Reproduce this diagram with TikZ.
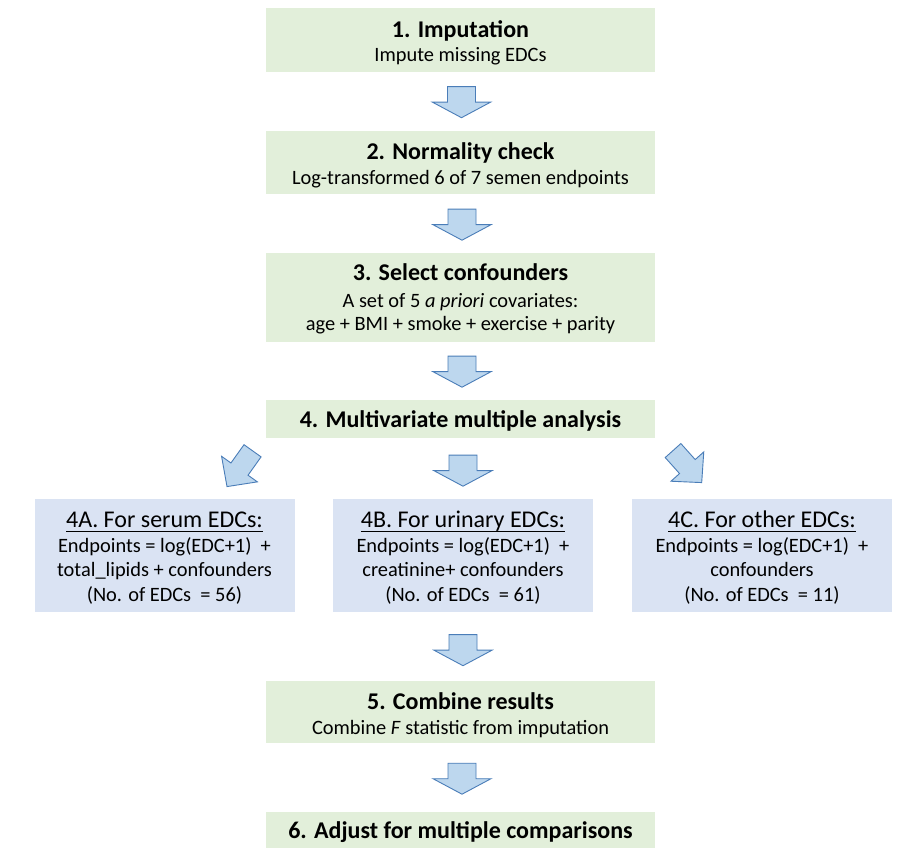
\documentclass[tikz,border=0pt]{standalone}
\usepackage{fontspec}
\setmainfont{Carlito}
\usetikzlibrary{calc}
\definecolor{gfill}{HTML}{E2EFDA}
\definecolor{bfill}{HTML}{DAE3F3}
\definecolor{afill}{HTML}{BDD7EE}
\definecolor{aline}{HTML}{4A7DB8}
\newcommand\ttlf{\fontsize{24}{26}\selectfont\bfseries}
\newcommand\bodyf{\fontsize{20.4}{23}\selectfont}
\newcommand\hdrf{\fontsize{24}{26}\selectfont}
\newcommand\ulin[1]{\setbox0\hbox{#1}\rlap{\rule[-4.3pt]{\wd0}{1.2pt}}\box0}
\newcommand\stack[1]{\vtop{\baselineskip=0pt\lineskiplimit=-1000pt\lineskip=0pt\halign{\hfil##\hfil\cr#1\crcr}}}
\newcommand\rowgap[1]{\cr\noalign{\kern#1}}
\tikzset{
  x=1pt, y=-1pt,
  boxg/.style={fill=gfill, draw=none, minimum width=389pt, inner sep=0pt},
  boxb/.style={fill=bfill, draw=none, minimum width=260pt, minimum height=113pt, inner sep=0pt},
  txt/.style={anchor=base, inner sep=0pt, font=\bodyf},
  arrowshape/.style={fill=afill, draw=aline, line width=0.9pt, line join=miter},
  pics/blockarrow/.style n args={4}{code={
    \draw[arrowshape] (0,0) -- (-#3,-#2) -- (-#4,-#2) -- (-#4,-#1) -- (#4,-#1) -- (#4,-#2) -- (#3,-#2) -- cycle;}}
}
\begin{document}
\begin{tikzpicture}
\fill[white] (0,0) rectangle (906,858);
\useasboundingbox (0,0) rectangle (906,858);
% boxes
\node[boxg, minimum height=64pt] (b1) at (460.5,40) {};
\node[boxg, minimum height=63pt] (b2) at (460.5,162.5) {};
\node[boxg, minimum height=89pt] (b3) at (460.5,297.5) {};
\node[boxg, minimum height=38pt] (b4) at (460.5,419) {};
\node[boxb] (b4a) at (164.5,556) {};
\node[boxb] (b4b) at (463,556) {};
\node[boxb] (b4c) at (762,556) {};
\node[boxg, minimum height=62pt] (b5) at (460.5,712) {};
\node[boxg, minimum height=36.5pt] (b6) at (460.5,830) {};
% texts
\node[txt] (t1) at (460.5,37.3) {\stack{\ttlf 1. Imputation\rowgap{24.7pt}Impute missing EDCs}};
\node[txt] (t2) at (460.5,159.3) {\stack{\ttlf 2. Normality check\rowgap{25pt}Log-transformed 6 of 7 semen endpoints}};
\node[txt] (t3) at (460.5,281) {\stack{\ttlf 3. Select confounders\rowgap{26.3pt}A set of 5 \textit{a priori} covariates:\rowgap{23pt}age + BMI + smoke + exercise + parity}};
\node[txt] (t4) at (460.5,427.7) {\stack{\ttlf 4. Multivariate multiple analysis}};
\node[txt] (t4a) at (164.5,527.5) {\stack{\hdrf\ulin{4A. For serum EDCs:}\rowgap{25pt}Endpoints = log(EDC+1)\ \ +\rowgap{24.5pt}total\_lipids + confounders\rowgap{24.5pt}(No. of EDCs\ \ = 56)}};
\node[txt] (t4b) at (463,527.5) {\stack{\hdrf\ulin{4B. For urinary EDCs:}\rowgap{25pt}Endpoints = log(EDC+1)\ \ +\rowgap{24.5pt}creatinine+ confounders\rowgap{24.5pt}(No. of EDCs\ \ = 61)}};
\node[txt] (t4c) at (762,527.5) {\stack{\hdrf\ulin{4C. For other EDCs:}\rowgap{25pt}Endpoints = log(EDC+1)\ \ +\rowgap{24.5pt}confounders\rowgap{24.5pt}(No. of EDCs\ \ = 11)}};
\node[txt] (t5) at (460.5,709) {\stack{\ttlf 5. Combine results\rowgap{25pt}Combine \textit{F} statistic from imputation}};
\node[txt] (t6) at (460.5,838.3) {\stack{\ttlf 6. Adjust for multiple comparisons}};
% block arrows
\pic at ($(b1.south)+(1,45.5)$) {blockarrow={31}{15.5}{29}{14}};
\pic at ($(b2.south)+(1.5,46)$) {blockarrow={31}{15.5}{29}{14}};
\pic at ($(b3.south)+(1.5,45)$) {blockarrow={31}{15.5}{29}{14}};
\pic at ($(b4.south)+(2.5,48)$) {blockarrow={31}{15.5}{29}{14}};
\pic at ($(b4b.south)+(0,53)$) {blockarrow={31}{15.5}{29}{14}};
\pic at ($(b5.south)+(1.5,51)$) {blockarrow={31}{15.5}{29}{14}};
\pic[rotate=-35.5] at ($(b4a.north)+(62.5,-12.7)$) {blockarrow={44}{21.5}{22}{10.5}};
\pic[rotate=41.8] at ($(b4c.north)+(-60.3,-16.7)$) {blockarrow={43}{21.5}{22}{10.5}};
\end{tikzpicture}
\end{document}
